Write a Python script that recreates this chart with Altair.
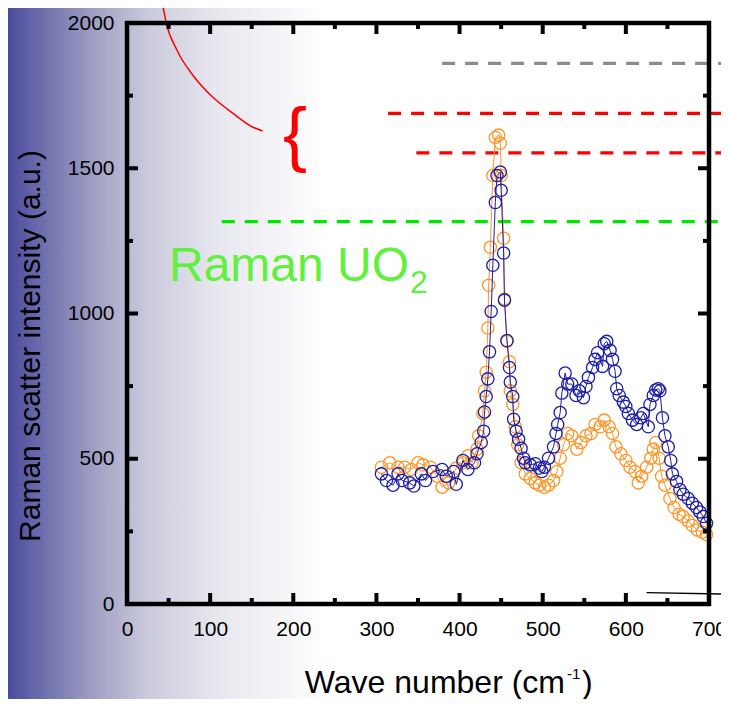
import altair as alt
import pandas as pd

FONT = "Liberation Sans"
W, H = 582, 581

# ---- data ----
blue_x = [306, 312, 320, 326, 331, 340, 345, 354, 359, 368,
          379, 384, 393, 396, 404, 410, 418, 421, 426, 429,
          430, 432, 434, 436, 438, 440, 443, 445, 449, 450,
          453, 454, 457, 460, 461, 464, 465, 468, 471, 474,
          477, 479, 485, 491, 496, 499, 502, 507, 513, 516,
          518, 521, 523, 527, 530, 535, 540, 544, 549, 552,
          555, 560, 563, 566, 572, 574, 577, 581, 584, 587,
          589, 592, 597, 600, 603, 608, 613, 618, 621, 627,
          629, 633, 636, 639, 641, 644, 647, 651, 654, 656,
          661, 665, 669, 675, 680, 685, 689, 693, 697]
blue_y = [448, 425, 409, 448, 425, 417, 406, 448, 425, 456,
          463, 440, 456, 412, 494, 463, 486, 517, 556, 595,
          661, 714, 775, 868, 1007, 1166, 1382, 1475, 1487, 1424,
          1208, 1046, 907, 814, 764, 714, 636, 595, 567, 536,
          502, 486, 479, 483, 468, 456, 471, 502, 541, 587,
          618, 659, 726, 795, 757, 757, 718, 734, 710, 749,
          780, 814, 842, 865, 818, 896, 904, 873, 842, 801,
          741, 718, 695, 680, 656, 633, 618, 641, 656, 610,
          687, 718, 737, 741, 734, 641, 579, 541, 494, 448,
          422, 394, 378, 363, 347, 332, 317, 301, 278]

orange_x = [306, 316, 326, 334, 342, 350, 356, 365, 373, 379,
            387, 396, 404, 410, 415, 421, 423, 428, 430, 432,
            434, 435, 437, 440, 443, 447, 449, 450, 453, 454,
            457, 460, 461, 464, 467, 470, 474, 479, 485, 491,
            496, 502, 507, 513, 517, 521, 525, 530, 535, 541,
            546, 552, 558, 563, 569, 574, 580, 584, 588, 594,
            600, 605, 611, 615, 619, 625, 630, 633, 636, 640,
            643, 647, 653, 658, 664, 669, 675, 680, 686, 692,
            697]
orange_y = [471, 486, 471, 471, 463, 486, 479, 471, 440, 402,
            417, 468, 486, 510, 486, 533, 579, 656, 734, 798,
            950, 1097, 1228, 1475, 1606, 1614, 1586, 1475, 1259, 1050,
            904, 834, 734, 687, 610, 548, 486, 448, 432, 417,
            409, 402, 409, 425, 456, 502, 548, 587, 579, 533,
            556, 579, 587, 618, 610, 633, 610, 587, 541, 517,
            494, 471, 456, 417, 440, 471, 502, 533, 556, 502,
            440, 409, 363, 332, 309, 301, 286, 270, 255, 247,
            239]

x_major = [0, 100, 200, 300, 400, 500, 600, 700]
x_minor = [50, 150, 250, 350, 450, 550, 650]
y_major = [0, 500, 1000, 1500, 2000]
y_minor = [250, 750, 1250, 1750]

dash_x = [379, 314, 348, 114]
dash_x2 = [760, 760, 760, 760]
dash_y = [1861, 1689, 1553, 1316]
dash_color = ["#8c8c8c", "#ff0000", "#ff0000", "#00e600"]

arc_x = [42, 47, 60, 79, 103, 127, 151, 163]
arc_y = [2079, 2003, 1907, 1821, 1745, 1690, 1642, 1628]

leader_x = [625, 760]
leader_y = [39, 32]

# ---- helpers ----
XS = alt.Scale(domain=[0, 700], nice=False, zero=False)
YS = alt.Scale(domain=[0, 2000], nice=False, zero=False)

x_axis = alt.Axis(values=x_major, domain=False, ticks=False, grid=False, title=None,
                  labelFont=FONT, labelFontSize=21, labelColor="#000", labelPadding=14,
                  labelFlush=False, labelOverlap=False, zindex=2, format="d")
y_axis = alt.Axis(values=y_major, domain=False, ticks=False, grid=False, title=None,
                  labelFont=FONT, labelFontSize=21, labelColor="#000", labelPadding=13,
                  labelOverlap=False, zindex=2, format="d")


def X(f="x"):
    return alt.X(f, type="quantitative", scale=XS, axis=x_axis)


def Y(f="y"):
    return alt.Y(f, type="quantitative", scale=YS, axis=y_axis)


one = pd.DataFrame({"k": [0]})

grad = alt.LinearGradient(
    gradient="linear",
    x1=0, x2=1, y1=0, y2=0,
    stops=[
        alt.GradientStop(offset=0.0, color="#45459b"),
        alt.GradientStop(offset=0.15, color="#7676b0"),
        alt.GradientStop(offset=0.3, color="#a4a4c6"),
        alt.GradientStop(offset=0.45, color="#cacadc"),
        alt.GradientStop(offset=0.65, color="#e6e6ee"),
        alt.GradientStop(offset=1.0, color="#ffffff"),
    ],
)

background = alt.Chart(one).mark_rect(fill=grad, strokeWidth=0).encode(
    x=alt.value(-125), x2=alt.value(200), y=alt.value(-20), y2=alt.value(H + 120)
)

dash_df = pd.DataFrame({"x": dash_x, "x2": dash_x2, "y": dash_y, "c": dash_color})
dashes = alt.Chart(dash_df).mark_rule(strokeDash=[13, 10], strokeWidth=3.2, clip=False).encode(
    x=X(), x2="x2", y=Y(), color=alt.Color("c:N", scale=None)
)

arc = alt.Chart(pd.DataFrame({"x": arc_x, "y": arc_y})).mark_line(
    color="#ff0000", strokeWidth=1.5, interpolate="monotone", clip=False
).encode(x=X(), y=Y())

leader = alt.Chart(pd.DataFrame({"x": leader_x, "y": leader_y})).mark_line(
    color="#000000", strokeWidth=1.3, clip=False
).encode(x=X(), y=Y())

blue_df = pd.DataFrame({"x": blue_x, "y": blue_y})
orange_df = pd.DataFrame({"x": orange_x, "y": orange_y})

BLUE = "#1c1ca6"
ORANGE = "#ff9526"

orange_line = alt.Chart(orange_df).mark_line(color=ORANGE, strokeWidth=1).encode(x=X(), y=Y())
orange_pts = alt.Chart(orange_df).mark_point(
    filled=False, size=150, strokeWidth=1.3, color=ORANGE, opacity=1
).encode(x=X(), y=Y())
blue_line = alt.Chart(blue_df).mark_line(color=BLUE, strokeWidth=1).encode(x=X(), y=Y())
blue_pts = alt.Chart(blue_df).mark_point(
    filled=False, size=150, strokeWidth=1.3, color=BLUE, opacity=1
).encode(x=X(), y=Y())

frame = alt.Chart(one).mark_rect(fillOpacity=0, stroke="#000", strokeWidth=4.5).encode(
    x=alt.value(0), x2=alt.value(W), y=alt.value(0), y2=alt.value(H)
)

TW = 4
xmaj = pd.DataFrame({"x": x_major})
xmin = pd.DataFrame({"x": x_minor})
ymaj = pd.DataFrame({"y": y_major})
ymin = pd.DataFrame({"y": y_minor})
ticks = [
    alt.Chart(xmaj).mark_rule(color="#000", strokeWidth=TW).encode(x=X(), y=alt.value(H), y2=alt.value(H - 11)),
    alt.Chart(xmaj).mark_rule(color="#000", strokeWidth=TW).encode(x=X(), y=alt.value(0), y2=alt.value(11)),
    alt.Chart(xmin).mark_rule(color="#000", strokeWidth=TW).encode(x=X(), y=alt.value(H), y2=alt.value(H - 6)),
    alt.Chart(xmin).mark_rule(color="#000", strokeWidth=TW).encode(x=X(), y=alt.value(0), y2=alt.value(6)),
    alt.Chart(ymaj).mark_rule(color="#000", strokeWidth=TW).encode(y=Y(), x=alt.value(0), x2=alt.value(11)),
    alt.Chart(ymaj).mark_rule(color="#000", strokeWidth=TW).encode(y=Y(), x=alt.value(W), x2=alt.value(W - 11)),
    alt.Chart(ymin).mark_rule(color="#000", strokeWidth=TW).encode(y=Y(), x=alt.value(0), x2=alt.value(6)),
    alt.Chart(ymin).mark_rule(color="#000", strokeWidth=TW).encode(y=Y(), x=alt.value(W), x2=alt.value(W - 6)),
]


def label(text, x, y, size, color="#000", align="left", baseline="alphabetic", angle=0):
    kw = dict(text=text, font=FONT, fontSize=size, color=color, align=align, baseline=baseline)
    if angle:
        kw["angle"] = angle
    return alt.Chart(one).mark_text(**kw).encode(x=alt.value(x), y=alt.value(y))


texts = [
    label("Raman UO", 42, 258, 48, color="#62f03e"),
    label("2", 283, 270, 32, color="#62f03e"),
    label("{", 168, 135, 72, color="#ff0000", align="center"),
    label("Wave number (cm", 438, 670, 32, align="right"),
    label("-1", 440, 656, 15),
    label(")", 455, 670, 32),
    label("Raman scatter intensity (a.u.)", -96, 323, 30, align="center", baseline="middle", angle=270),
]

chart = alt.layer(
    background, dashes, arc, orange_line, orange_pts, blue_line, blue_pts,
    frame, leader, *ticks, *texts
).properties(
    width=W, height=H,
    autosize=alt.AutoSizeParams(type="none"),
    padding={"left": 119, "top": 15, "right": 12, "bottom": 95},
    background="#ffffff",
).configure_view(strokeWidth=0)

chart.save("out.html", embed_options={"renderer": "svg", "actions": False})
